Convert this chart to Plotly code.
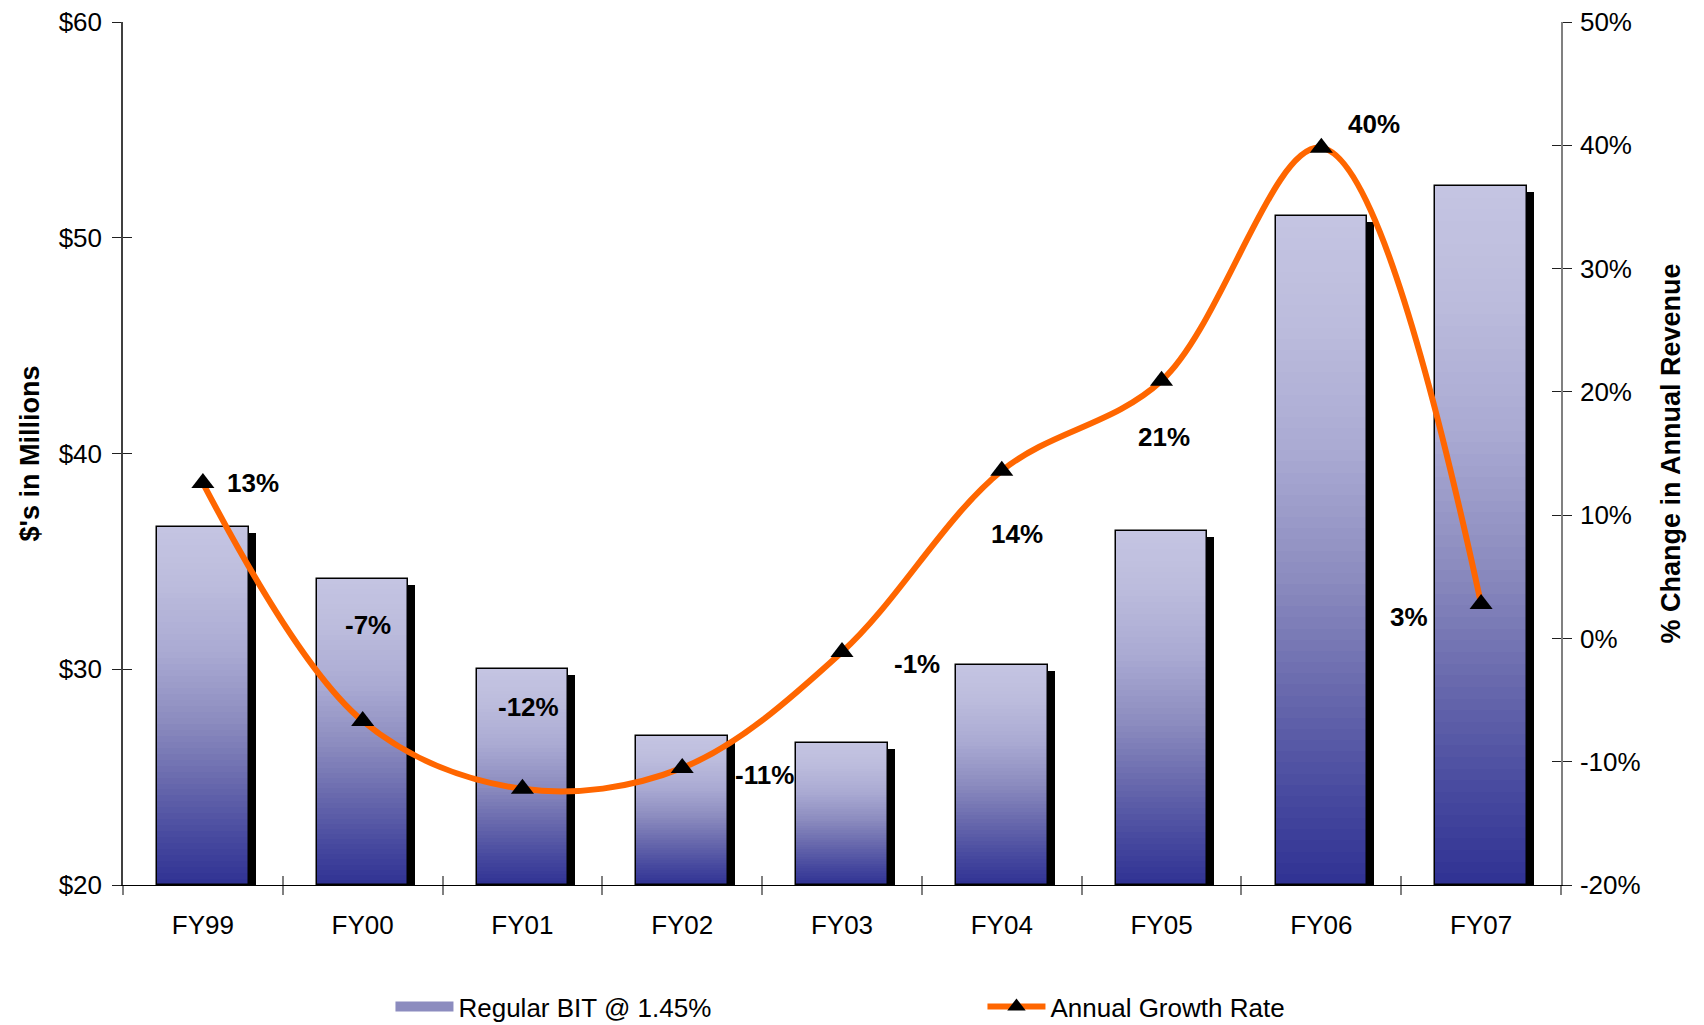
import plotly.graph_objects as go
from plotly.colors import sample_colorscale

# ---------------- data ----------------
categories = ["FY99", "FY00", "FY01", "FY02", "FY03", "FY04", "FY05", "FY06", "FY07"]
revenue = [36.6, 34.2, 30.0, 26.9, 26.6, 30.2, 36.4, 51.0, 52.4]          # $ millions
growth = [12.6, -6.7, -12.2, -10.5, -1.1, 13.6, 20.9, 39.8, 2.8]          # % change
growth_labels = ["13%", "-7%", "-12%", "-11%", "-1%", "14%", "21%", "40%", "3%"]
bar_name = "Regular BIT @ 1.45%"
line_name = "Annual Growth Rate"
left_ticks = [20, 30, 40, 50, 60]
left_tick_text = ["$20", "$30", "$40", "$50", "$60"]
right_ticks = [-20, -10, 0, 10, 20, 30, 40, 50]
right_tick_text = ["-20%", "-10%", "0%", "10%", "20%", "30%", "40%", "50%"]

# ---------------- style ----------------
FONT = "Liberation Sans, Arial, sans-serif"
BASE = 20
BAR_W = 0.573
N_SEG = 60
grad = [[0.0, "#2f3193"], [0.12, "#45479e"], [0.27, "#6465ab"], [0.46, "#8c8cbf"],
        [0.65, "#aaaad3"], [0.85, "#bdbddd"], [1.0, "#c4c4e2"]]
# label placement: (y value on right axis, x shift in px)
label_place = [(12.6, 50), (1.1, 5), (-5.6, 6), (-11.1, 82), (-2.1, 75),
               (8.5, 15), (16.3, 2), (41.7, 53), (1.7, -72)]

fig = go.Figure()

# shadow bars
fig.add_trace(go.Bar(
    x=categories, y=[v - BASE - 0.28 for v in revenue], base=BASE,
    width=BAR_W, offset=-BAR_W / 2 + 0.044,
    marker=dict(color="#000000", line=dict(width=0)),
    showlegend=False, hoverinfo="skip"))

# gradient bars (stacked thin slices of each bar)
for k in range(N_SEG):
    col = sample_colorscale(grad, [(k + 0.5) / N_SEG])[0]
    h = [(v - BASE) / N_SEG for v in revenue]
    fig.add_trace(go.Bar(
        x=categories,
        y=[hh * (1.0 if k == N_SEG - 1 else 1.8) for hh in h],
        base=[BASE + k * hh for hh in h],
        width=BAR_W,
        marker=dict(color=col, line=dict(width=0)),
        showlegend=False, hoverinfo="skip"))

# outline bars
fig.add_trace(go.Bar(
    x=categories, y=[v - BASE for v in revenue], base=BASE, width=BAR_W,
    marker=dict(color="rgba(0,0,0,0)", line=dict(color="#000000", width=1.5)),
    customdata=revenue, hovertemplate="%{x}: $%{customdata}M<extra></extra>",
    showlegend=False))

# legend entry for bars (wide swatch)
fig.add_trace(go.Scatter(
    x=categories, y=[None] * len(categories), name=bar_name, mode="lines",
    line=dict(color="#8c8cbf", width=13), showlegend=True, hoverinfo="skip"))

# growth line
fig.add_trace(go.Scatter(
    x=categories, y=growth, yaxis="y2", name=line_name,
    mode="lines+markers", line=dict(color="#ff6600", width=6, shape="spline", smoothing=1.0),
    marker=dict(symbol="triangle-up", size=20, color="#000000"),
    showlegend=True))

# helper traces for "cross" tick marks (inside halves)
fig.add_trace(go.Scatter(x=[None], y=[None], xaxis="x2", yaxis="y3",
                         showlegend=False, hoverinfo="skip"))
fig.add_trace(go.Scatter(x=[None], y=[None], xaxis="x2", yaxis="y4",
                         showlegend=False, hoverinfo="skip"))

# data labels
for cat, txt, (yy, xs) in zip(categories, growth_labels, label_place):
    fig.add_annotation(x=cat, y=yy, yref="y2", text=txt, showarrow=False,
                       xshift=xs, font=dict(family=FONT, size=26, color="#000000", weight="bold"))

# axis titles
fig.add_annotation(xref="paper", yref="paper", x=-0.0647, y=0.5, text="$'s in Millions",
                   textangle=-90, showarrow=False, xanchor="center", yanchor="middle",
                   font=dict(family=FONT, size=27, color="#000000", weight="bold"))
fig.add_annotation(xref="paper", yref="paper", x=1.0758, y=0.5, text="% Change in Annual Revenue",
                   textangle=-90, showarrow=False, xanchor="center", yanchor="middle",
                   font=dict(family=FONT, size=27, color="#000000", weight="bold"))

n = len(categories)
fig.update_layout(
    width=1704, height=1025,
    margin=dict(l=123, r=143, t=22, b=140, autoexpand=False),
    paper_bgcolor="white", plot_bgcolor="white",
    barmode="overlay", bargap=0,
    font=dict(family=FONT, size=26, color="#000000"),
    showlegend=True,
    legend=dict(orientation="h", x=0.186, xanchor="left", y=-0.141, yanchor="middle",
                font=dict(family=FONT, size=26, color="#000000"),
                itemwidth=58, entrywidth=519, entrywidthmode="pixels",
                bgcolor="rgba(0,0,0,0)", traceorder="normal"),
    xaxis=dict(type="category", range=[-0.5, n - 0.5], showgrid=False, zeroline=False,
               showline=True, linecolor="#000000", linewidth=1,
               ticks="outside", ticklen=9, tickcolor="#808080", tickwidth=1.5,
               tickson="boundaries", ticklabelstandoff=17,
               tickfont=dict(family=FONT, size=26, color="#000000")),
    xaxis2=dict(overlaying="x", anchor="y", range=[-0.5, n - 0.5], showgrid=False,
                zeroline=False, showline=False, showticklabels=False,
                tickmode="array", tickvals=[i - 0.5 for i in range(n + 1)],
                ticks="inside", ticklen=9, tickcolor="#808080", tickwidth=1.5),
    yaxis=dict(range=[20, 60], tickmode="array", tickvals=left_ticks, ticktext=left_tick_text,
               showgrid=False, zeroline=False, showline=True, linecolor="#404040", linewidth=1.5,
               ticks="outside", ticklen=9, tickcolor="#202020", tickwidth=1.2,
               ticklabelstandoff=5, tickfont=dict(family=FONT, size=26, color="#000000")),
    yaxis2=dict(range=[-20, 50], tickmode="array", tickvals=right_ticks, ticktext=right_tick_text,
                overlaying="y", side="right", anchor="x", showgrid=False, zeroline=False,
                showline=True, linecolor="#808080", linewidth=1.5, ticks="outside", ticklen=9,
                tickcolor="#202020", tickwidth=1.2, ticklabelstandoff=3,
                tickfont=dict(family=FONT, size=26, color="#000000")),
    yaxis3=dict(range=[20, 60], tickmode="array", tickvals=left_ticks, overlaying="y",
                side="left", anchor="x", showgrid=False, zeroline=False, showline=False,
                showticklabels=False, ticks="inside", ticklen=9, tickcolor="#202020", tickwidth=1.2),
    yaxis4=dict(range=[-20, 50], tickmode="array", tickvals=right_ticks, overlaying="y",
                side="right", anchor="x", showgrid=False, zeroline=False, showline=False,
                showticklabels=False, ticks="inside", ticklen=9, tickcolor="#202020", tickwidth=1.2),
)

fig.write_html("out.html")
